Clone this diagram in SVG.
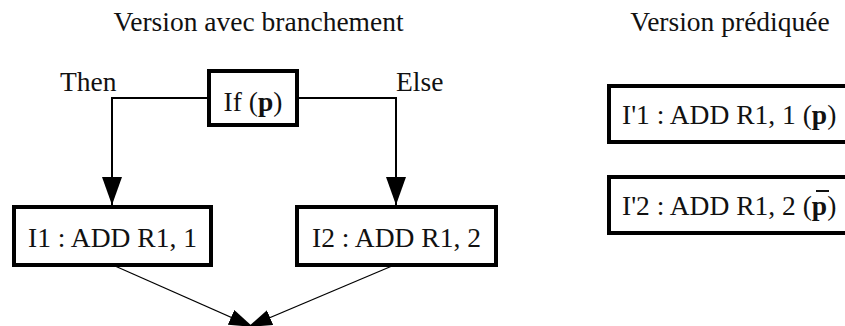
<svg xmlns="http://www.w3.org/2000/svg" width="845" height="326" viewBox="0 0 845 326">
  <style>
    text { font-family: "Liberation Serif", "Times New Roman", serif; font-size: 27.5px; fill: #111; }
    .box { fill: #fff; stroke: #000; stroke-width: 4; }
    .c { text-anchor: middle; }
    .wire { fill: none; stroke: #000; stroke-width: 2; }
    .thin { fill: none; stroke: #000; stroke-width: 1.2; }
    .b { font-weight: bold; }
  </style>
  <defs>
    <marker id="ah" markerUnits="userSpaceOnUse" markerWidth="29" markerHeight="20" refX="28" refY="10" orient="auto" viewBox="0 0 29 20">
      <path d="M0,0 L28,10 L0,20 z" fill="#000"/>
    </marker>
    <marker id="ahs" markerUnits="userSpaceOnUse" markerWidth="25" markerHeight="16" refX="24" refY="8" orient="auto" viewBox="0 0 25 16">
      <path d="M0,0 L24,8 L0,16 z" fill="#000"/>
    </marker>
  </defs>
  <g id="titles">
    <text class="c" x="258.5" y="31">Version avec branchement</text>
    <text class="c" x="730" y="31">Version prédiquée</text>
  </g>
  <g id="connectors">
    <path class="wire" d="M209,98 H112 V205" marker-end="url(#ah)"/>
    <path class="wire" d="M297,98 H396 V205" marker-end="url(#ah)"/>
    <path class="thin" d="M115,266 L253,327" marker-end="url(#ahs)"/>
    <path class="thin" d="M392,266 L248,327" marker-end="url(#ahs)"/>
    <text x="60" y="91">Then</text>
    <text x="396" y="91">Else</text>
  </g>
  <g id="if">
    <rect class="box" x="209" y="71" width="88" height="54"/>
    <text class="c" x="253" y="111">If (<tspan class="b">p</tspan>)</text>
  </g>
  <g id="i1">
    <rect class="box" x="14" y="207" width="197" height="58"/>
    <text class="c" x="112.5" y="247">I1 : ADD R1, 1</text>
  </g>
  <g id="i2">
    <rect class="box" x="297" y="207" width="199" height="58"/>
    <text class="c" x="396.5" y="247">I2 : ADD R1, 2</text>
  </g>
  <g id="ip1">
    <rect class="box" x="609" y="86" width="250" height="56"/>
    <text x="622" y="124">I'1 : ADD R1, 1 (<tspan class="b">p</tspan>)</text>
  </g>
  <g id="ip2">
    <rect class="box" x="609" y="177" width="250" height="56"/>
    <text x="622" y="215">I'2 : ADD R1, 2 (<tspan class="b">p</tspan>)</text>
    <line x1="816" y1="191" x2="829" y2="191" stroke="#111" stroke-width="2"/>
  </g>
</svg>
